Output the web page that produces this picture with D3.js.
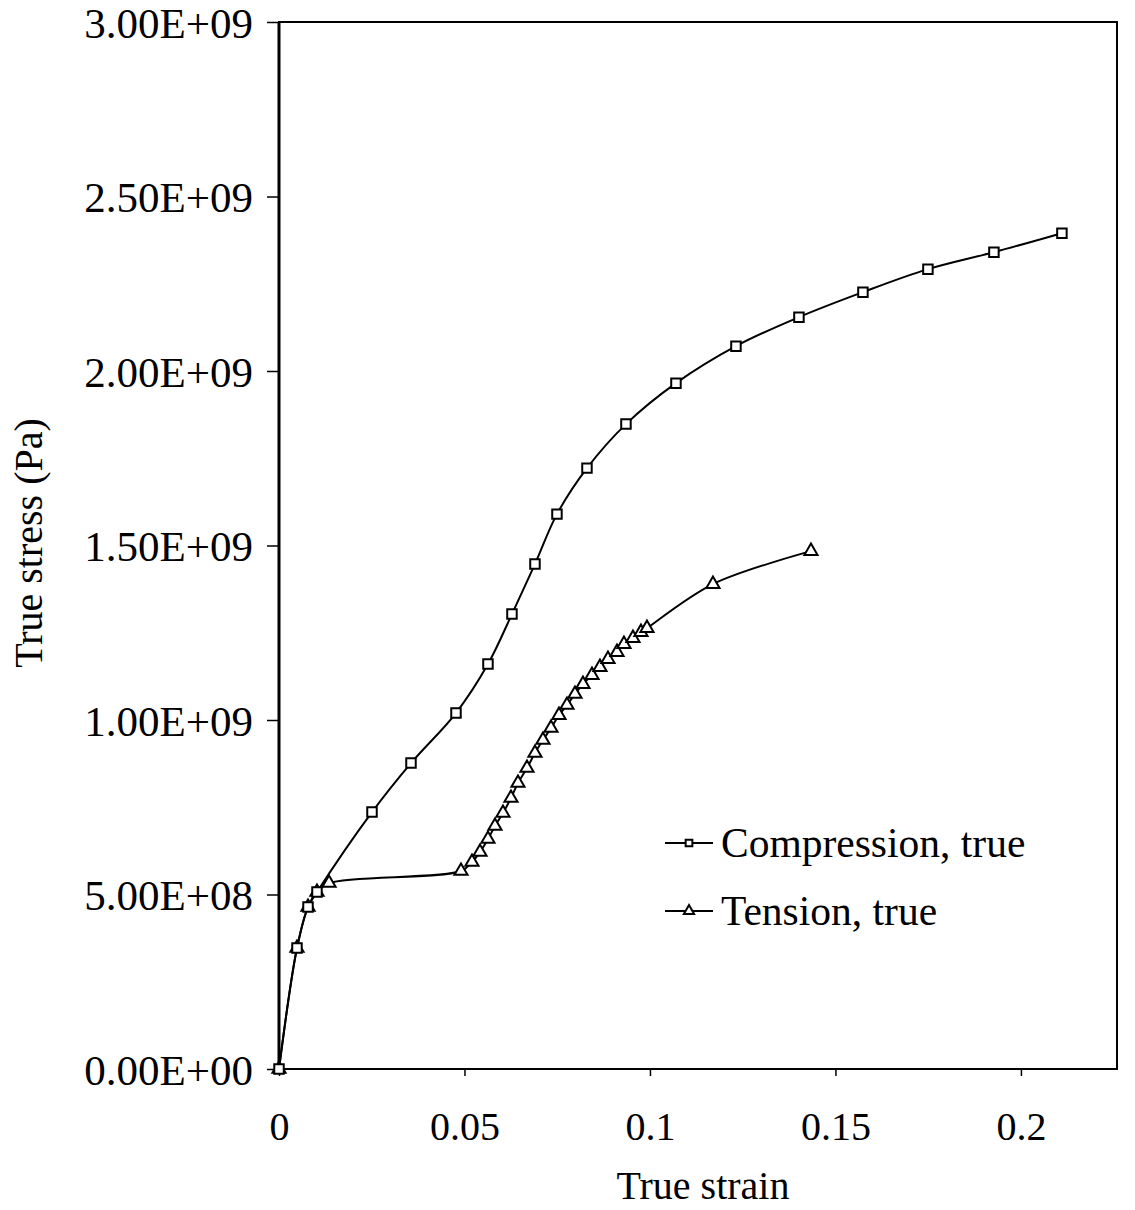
<!DOCTYPE html>
<html>
<head>
<meta charset="utf-8">
<script src="https://cdn.jsdelivr.net/npm/d3@7"></script>
<style>
    body { margin: 0; background: #fff; }
    svg text { font-family: "Liberation Serif", "Times New Roman", serif; fill: #000; }
</style>
</head>
<body>
<svg id="chart" width="1135" height="1210"></svg>
<script>
// values (strain, stress in Pa)
var compStrain = [0, 0.00485, 0.00782, 0.01024, 0.02507, 0.03558, 0.04771, 0.05633, 0.0628, 0.069,
    0.07493, 0.08302, 0.09353, 0.10701, 0.12318, 0.14016, 0.15741, 0.17493, 0.19272, 0.21105];
var compStress = [0, 0.3466e9, 0.4641e9, 0.5071e9, 0.7362e9, 0.8766e9, 1.0199e9, 1.1602e9, 1.3035e9, 1.4467e9,
    1.5899e9, 1.7217e9, 1.8478e9, 1.9652e9, 2.0712e9, 2.1543e9, 2.2259e9, 2.2918e9, 2.3405e9, 2.3949e9];

var tensStrain = [0, 0.00485, 0.00782, 0.01024, 0.01348, 0.04906, 0.05202, 0.05418, 0.05633, 0.05822,
    0.06038, 0.06253, 0.06442, 0.06685, 0.069, 0.07116, 0.07332, 0.07547, 0.07763, 0.07978,
    0.08194, 0.08437, 0.08652, 0.08868, 0.09111, 0.09299, 0.09542, 0.09757, 0.09919, 0.11698, 0.1434];
var tensStress = [0, 0.3466e9, 0.4641e9, 0.5071e9, 0.5328e9, 0.5672e9, 0.593e9, 0.6216e9, 0.6589e9, 0.6961e9,
    0.7334e9, 0.7763e9, 0.8193e9, 0.8623e9, 0.9053e9, 0.9425e9, 0.9769e9, 1.0141e9, 1.0428e9, 1.0743e9,
    1.1029e9, 1.1287e9, 1.1516e9, 1.1745e9, 1.1946e9, 1.2175e9, 1.2347e9, 1.2519e9, 1.2633e9, 1.3894e9, 1.4839e9];

var xTicks = [0, 0.05, 0.1, 0.15, 0.2];
var xTickLabels = ["0", "0.05", "0.1", "0.15", "0.2"];
var yTicks = [0, 0.5e9, 1e9, 1.5e9, 2e9, 2.5e9, 3e9];
var yTickLabels = ["0.00E+00", "5.00E+08", "1.00E+09", "1.50E+09", "2.00E+09", "2.50E+09", "3.00E+09"];
var seriesNames = ["Compression, true", "Tension, true"];

var svg = d3.select("#chart");
var plotLeft = 279, plotRight = 1117, plotTop = 22, plotBottom = 1069;

var x = d3.scaleLinear().domain([0, 0.2259]).range([plotLeft, plotRight]);
var y = d3.scaleLinear().domain([0, 3e9]).range([plotBottom, plotTop]);

// frame
svg.append("rect")
    .attr("x", plotLeft).attr("y", plotTop)
    .attr("width", plotRight - plotLeft).attr("height", plotBottom - plotTop)
    .attr("fill", "none").attr("stroke", "#000").attr("stroke-width", 2);
svg.append("line")
    .attr("x1", plotLeft).attr("x2", plotLeft).attr("y1", plotTop).attr("y2", plotBottom)
    .attr("stroke", "#000").attr("stroke-width", 3);

// axes
var yAxis = svg.append("g")
    .attr("transform", "translate(" + plotLeft + ",0)")
    .call(d3.axisLeft(y).tickValues(yTicks).tickSize(12).tickPadding(14)
        .tickFormat(function (d, i) { return yTickLabels[i]; }));
yAxis.select(".domain").remove();
yAxis.selectAll("line").attr("stroke-width", 1.5);
yAxis.selectAll("text").attr("font-size", 43).attr("font-family", "Liberation Serif")
    .attr("dy", "0.36em");

var xAxis = svg.append("g")
    .attr("transform", "translate(0," + plotBottom + ")")
    .call(d3.axisBottom(x).tickValues(xTicks).tickSize(7).tickPadding(36)
        .tickFormat(function (d, i) { return xTickLabels[i]; }));
xAxis.select(".domain").remove();
xAxis.selectAll("line").attr("stroke-width", 1.5);
xAxis.selectAll("text").attr("font-size", 40).attr("font-family", "Liberation Serif");

// axis titles
svg.append("text")
    .attr("x", 703).attr("y", 1199)
    .attr("text-anchor", "middle").attr("font-size", 40)
    .text("True strain");
svg.append("text")
    .attr("transform", "translate(42,543) rotate(-90)")
    .attr("text-anchor", "middle").attr("font-size", 40)
    .text("True stress (Pa)");

var line = d3.line()
    .x(function (d) { return x(d[0]); })
    .y(function (d) { return y(d[1]); })
    .curve(d3.curveCatmullRom.alpha(0.5));

var comp = d3.zip(compStrain, compStress);
var tens = d3.zip(tensStrain, tensStress);

function drawSeries(data, symbolType, size) {
    var g = svg.append("g");
    g.append("path")
        .datum(data)
        .attr("d", line)
        .attr("fill", "none")
        .attr("stroke", "#000")
        .attr("stroke-width", 2);
    g.selectAll("path.mark")
        .data(data)
        .enter().append("path")
        .attr("class", "mark")
        .attr("transform", function (d) { return "translate(" + x(d[0]) + "," + y(d[1]) + ")"; })
        .attr("d", d3.symbol().type(symbolType).size(size))
        .attr("fill", "#fff")
        .attr("stroke", "#000")
        .attr("stroke-width", 2);
}

drawSeries(tens, d3.symbolTriangle, 75);
drawSeries(comp, d3.symbolSquare, 90);

// legend
var legend = svg.append("g");
var legendY = [843, 911];
var legendSym = [d3.symbolSquare, d3.symbolTriangle];
seriesNames.forEach(function (name, i) {
    legend.append("line")
        .attr("x1", 665).attr("x2", 713)
        .attr("y1", legendY[i]).attr("y2", legendY[i])
        .attr("stroke", "#000").attr("stroke-width", 2);
    legend.append("path")
        .attr("transform", "translate(689," + legendY[i] + ")")
        .attr("d", d3.symbol().type(legendSym[i]).size(45))
        .attr("fill", "#fff").attr("stroke", "#000").attr("stroke-width", 2);
    legend.append("text")
        .attr("x", 721).attr("y", legendY[i] + 14)
        .attr("font-size", 41.5)
        .text(name);
});
</script>
</body>
</html>
